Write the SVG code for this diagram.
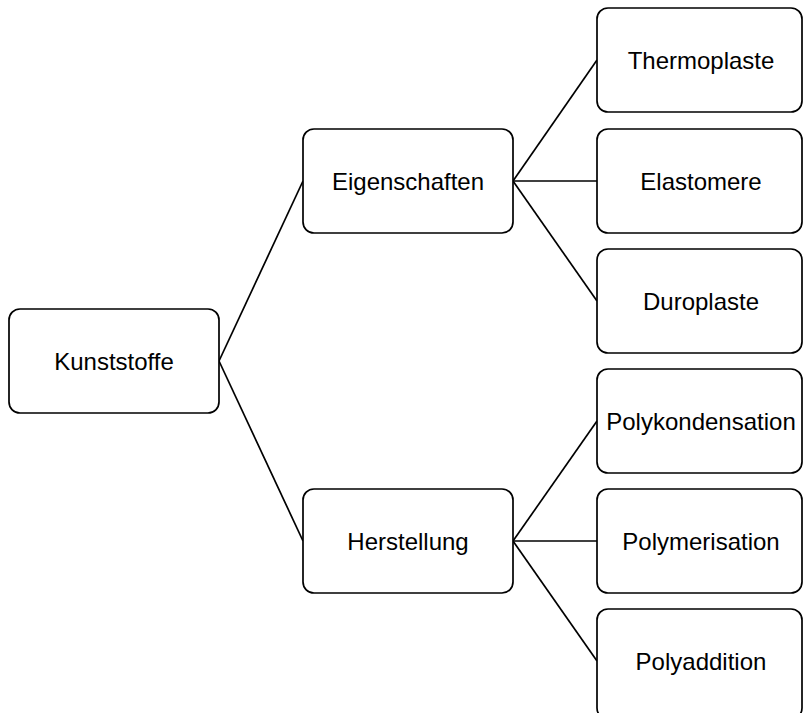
<svg xmlns="http://www.w3.org/2000/svg" width="803" height="713" viewBox="0 0 803 713">
<style>
.box{fill:#fff;stroke:#000;stroke-width:1.7}
.lbl{font-family:"Liberation Sans",Arial,sans-serif;font-size:24px;fill:#000;text-anchor:middle}
.con{stroke:#000;stroke-width:1.7;fill:none}
</style>
<rect width="803" height="713" fill="#fff"/>
<g id="connectors">
<line class="con" x1="219" y1="361" x2="303" y2="181"/>
<line class="con" x1="219" y1="361" x2="303" y2="541"/>
<line class="con" x1="513" y1="181" x2="597" y2="60"/>
<line class="con" x1="513" y1="181" x2="597" y2="181"/>
<line class="con" x1="513" y1="181" x2="597" y2="301"/>
<line class="con" x1="513" y1="541" x2="597" y2="421"/>
<line class="con" x1="513" y1="541" x2="597" y2="541"/>
<line class="con" x1="513" y1="541" x2="597" y2="661"/>
</g>
<g id="kunststoffe"><rect class="box" x="9" y="309" width="210" height="104" rx="11"/><text class="lbl" x="114" y="370">Kunststoffe</text></g>
<g id="eigenschaften"><rect class="box" x="303" y="129" width="210" height="104" rx="11"/><text class="lbl" x="408" y="190">Eigenschaften</text></g>
<g id="herstellung"><rect class="box" x="303" y="489" width="210" height="104" rx="11"/><text class="lbl" x="408" y="550">Herstellung</text></g>
<g id="thermoplaste"><rect class="box" x="597" y="8" width="205" height="104" rx="11"/><text class="lbl" x="701" y="69">Thermoplaste</text></g>
<g id="elastomere"><rect class="box" x="597" y="129" width="205" height="104" rx="11"/><text class="lbl" x="701" y="190">Elastomere</text></g>
<g id="duroplaste"><rect class="box" x="597" y="249" width="205" height="104" rx="11"/><text class="lbl" x="701" y="310">Duroplaste</text></g>
<g id="polykondensation"><rect class="box" x="597" y="369" width="205" height="104" rx="11"/><text class="lbl" x="701" y="430">Polykondensation</text></g>
<g id="polymerisation"><rect class="box" x="597" y="489" width="205" height="104" rx="11"/><text class="lbl" x="701" y="550">Polymerisation</text></g>
<g id="polyaddition"><rect class="box" x="597" y="609" width="205" height="110" rx="11"/><text class="lbl" x="701" y="670">Polyaddition</text></g>
</svg>
